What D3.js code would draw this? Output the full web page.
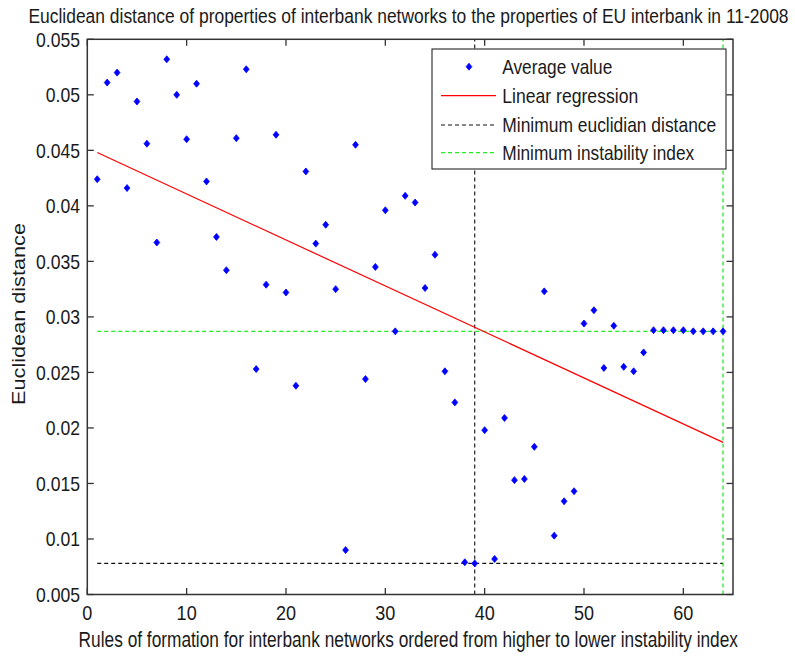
<!DOCTYPE html>
<html>
<head>
<meta charset="utf-8">
<script src="https://cdn.jsdelivr.net/npm/d3@7"></script>
<style>
  html, body { margin: 0; padding: 0; background: #fff; }
  svg { display: block; }
  text { font-family: "Liberation Sans", Arial, sans-serif; fill: #1a1a1a; }
</style>
</head>
<body>
<svg id="chart" width="795" height="657"></svg>
<script>
// Rule index (x) and average euclidean distance (y) for each rule of formation
const ruleIndex = [1,2,3,4,5,6,7,8,9,10,11,12,13,14,15,16,17,18,19,20,21,22,23,24,25,26,27,28,29,30,31,32,
                   33,34,35,36,37,38,39,40,41,42,43,44,45,46,47,48,49,50,51,52,53,54,55,56,57,58,59,60,61,62,63,64];
const avgValue = [0.0424,0.0511,0.0520,0.0416,0.0494,0.0456,0.0367,0.0532,0.0500,0.0460,0.0510,0.0422,0.0372,0.0342,0.0461,0.0523,
                  0.0253,0.0329,0.0464,0.0322,0.0238,0.0431,0.0366,0.0383,0.0325,0.0090,0.0455,0.0244,0.0345,0.0396,0.0287,0.0409,
                  0.0403,0.0326,0.0356,0.0251,0.0223,0.0079,0.0078,0.0198,0.0082,0.0209,0.0153,0.0154,0.0183,0.0323,0.0103,0.0134,
                  0.0143,0.0294,0.0306,0.0254,0.0292,0.0255,0.0251,0.0268,0.0288,0.0288,0.0288,0.0288,0.0287,0.0287,0.0287,0.0287];

// Fitted regression line (end points)
const regressionX = [1, 64];
const regressionY = [0.0448, 0.0187];

// Reference lines
const minDistRule = 39, minDistValue = 0.0078;
const minInstRule = 64, minInstValue = 0.0287;

// Axis ticks
const xTicks = [0, 10, 20, 30, 40, 50, 60];
const xTickLabels = ["0", "10", "20", "30", "40", "50", "60"];
const yTicks = [0.005, 0.01, 0.015, 0.02, 0.025, 0.03, 0.035, 0.04, 0.045, 0.05, 0.055];
const yTickLabels = ["0.005", "0.01", "0.015", "0.02", "0.025", "0.03", "0.035", "0.04", "0.045", "0.05", "0.055"];

const legendLabels = ["Average value", "Linear regression", "Minimum euclidian distance", "Minimum instability index"];
const legendTextWidth = [110, 136, 214, 192];

const titleText = "Euclidean distance of properties of interbank networks to the properties of EU interbank in 11-2008";
const xTitle = "Rules of formation for interbank networks ordered from higher to lower instability index";
const yTitle = "Euclidean distance";

const BLUE = "#0000ff", RED = "#ff0000", GREEN = "#22ee22", BLACK = "#111";
const SQUEEZE = 0.88;

const svg = d3.select("#chart");
svg.append("rect").attr("width", 795).attr("height", 657).attr("fill", "#fff");

const L = 87.3, R = 733, T = 39.3, B = 594.5;
const x = d3.scaleLinear().domain([0, 65]).range([L, R]);
const y = d3.scaleLinear().domain([0.005, 0.055]).range([B, T]);

// Condensed text: placed at (px, py), rotated by rot, scaled horizontally so it is
// either `width` pixels wide or `factor` times its natural width.
function condensedText(parent, str, px, py, opts) {
  const t = parent.append("text").attr("font-size", opts.size)
    .attr("text-anchor", opts.anchor || "start").text(str);
  const w = t.node().getComputedTextLength();
  const sx = opts.width ? opts.width / w : opts.factor;
  t.attr("transform", `translate(${px},${py}) rotate(${opts.rot || 0}) scale(${sx},1)`);
  return t;
}

const plot = svg.append("g");

// reference lines
const dash = "4,3";
plot.append("line")
  .attr("x1", x(regressionX[0])).attr("x2", x(minInstRule))
  .attr("y1", y(minDistValue)).attr("y2", y(minDistValue))
  .attr("stroke", BLACK).attr("stroke-width", 1.1).attr("stroke-dasharray", dash);
plot.append("line")
  .attr("x1", x(minDistRule)).attr("x2", x(minDistRule))
  .attr("y1", y(0.005)).attr("y2", y(0.055))
  .attr("stroke", BLACK).attr("stroke-width", 1.1).attr("stroke-dasharray", dash);
plot.append("line")
  .attr("x1", x(regressionX[0])).attr("x2", x(minInstRule))
  .attr("y1", y(minInstValue)).attr("y2", y(minInstValue))
  .attr("stroke", GREEN).attr("stroke-width", 1.3).attr("stroke-dasharray", dash);
plot.append("line")
  .attr("x1", x(minInstRule)).attr("x2", x(minInstRule))
  .attr("y1", y(0.005)).attr("y2", y(0.055))
  .attr("stroke", GREEN).attr("stroke-width", 1.3).attr("stroke-dasharray", dash);

// regression line
plot.append("path")
  .datum(regressionX.map((d, i) => [d, regressionY[i]]))
  .attr("d", d3.line().x(d => x(d[0])).y(d => y(d[1])))
  .attr("fill", "none").attr("stroke", RED).attr("stroke-width", 1.2);

// markers
function markerPath(cx, cy) {
  const a = 2.9, b = 3.5;
  return `M${cx},${cy - b}L${cx + a},${cy}L${cx},${cy + b}L${cx - a},${cy}Z`;
}
plot.selectAll("path.pt")
  .data(ruleIndex.map((r, i) => [r, avgValue[i]]))
  .join("path")
  .attr("class", "pt")
  .attr("d", d => markerPath(x(d[0]), y(d[1])))
  .attr("fill", BLUE).attr("stroke", BLUE).attr("stroke-width", 0.8);

// axes box with inward ticks
const axisColor = "#333";
const tickLen = 6.5;
const ax = svg.append("g");
ax.append("rect").attr("x", L).attr("y", T).attr("width", R - L).attr("height", B - T)
  .attr("fill", "none").attr("stroke", axisColor).attr("stroke-width", 1.5);

xTicks.forEach((t, i) => {
  ax.append("line").attr("x1", x(t)).attr("x2", x(t)).attr("y1", B).attr("y2", B - tickLen)
    .attr("stroke", axisColor).attr("stroke-width", 1.3);
  ax.append("line").attr("x1", x(t)).attr("x2", x(t)).attr("y1", T).attr("y2", T + tickLen)
    .attr("stroke", axisColor).attr("stroke-width", 1.3);
  condensedText(ax, xTickLabels[i], x(t), 620, { size: 20.5, anchor: "middle", factor: SQUEEZE });
});
yTicks.forEach((t, i) => {
  ax.append("line").attr("x1", L).attr("x2", L + tickLen).attr("y1", y(t)).attr("y2", y(t))
    .attr("stroke", axisColor).attr("stroke-width", 1.3);
  ax.append("line").attr("x1", R).attr("x2", R - tickLen).attr("y1", y(t)).attr("y2", y(t))
    .attr("stroke", axisColor).attr("stroke-width", 1.3);
  condensedText(ax, yTickLabels[i], 80, y(t) + 7.2, { size: 20, anchor: "end", factor: SQUEEZE });
});

// legend
const lg = svg.append("g");
lg.append("rect").attr("x", 432).attr("y", 49).attr("width", 294).attr("height", 120)
  .attr("fill", "#fff").attr("stroke", "#111").attr("stroke-width", 1);
const rowY = [66.7, 95.7, 125, 152.7];
lg.append("path").attr("d", markerPath(469, rowY[0])).attr("fill", BLUE).attr("stroke", BLUE).attr("stroke-width", 0.8);
lg.append("line").attr("x1", 441).attr("x2", 496).attr("y1", rowY[1]).attr("y2", rowY[1])
  .attr("stroke", RED).attr("stroke-width", 1.2);
lg.append("line").attr("x1", 441).attr("x2", 496).attr("y1", rowY[2]).attr("y2", rowY[2])
  .attr("stroke", BLACK).attr("stroke-width", 1.1).attr("stroke-dasharray", dash);
lg.append("line").attr("x1", 441).attr("x2", 496).attr("y1", rowY[3]).attr("y2", rowY[3])
  .attr("stroke", GREEN).attr("stroke-width", 1.3).attr("stroke-dasharray", dash);
legendLabels.forEach((s, i) => {
  condensedText(lg, s, 502.3, rowY[i] + 7.3, { size: 20.5, width: legendTextWidth[i] });
});

// titles
condensedText(svg, titleText, 408.5, 22.7, { size: 21, anchor: "middle", width: 760 });
condensedText(svg, xTitle, 408.3, 647.3, { size: 21.5, anchor: "middle", width: 660 });
condensedText(svg, yTitle, 25, 314, { size: 18.5, anchor: "middle", width: 182, rot: -90 });
</script>
</body>
</html>
